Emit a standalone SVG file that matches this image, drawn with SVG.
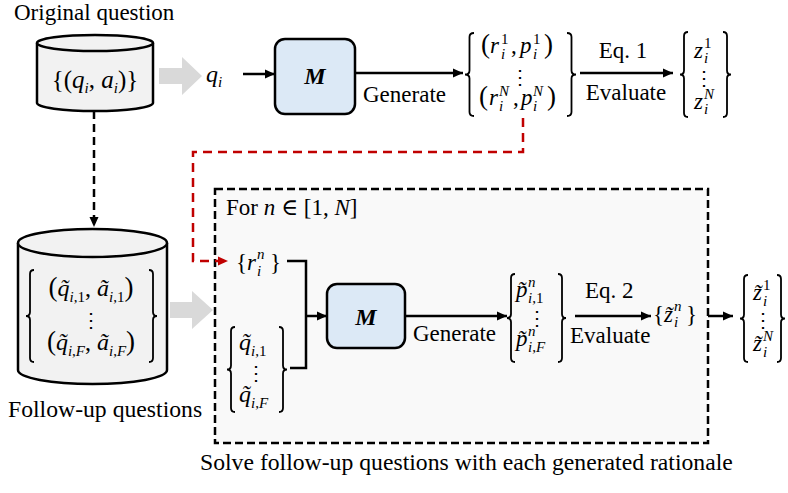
<svg xmlns="http://www.w3.org/2000/svg" width="788" height="493" viewBox="0 0 788 493">
<style>
text{font-family:'Liberation Serif','Tinos','DejaVu Serif',serif}
.t{font-size:23px;fill:#000}
.m{font-size:23px;font-style:italic;fill:#000}
.s{font-size:15px}
.i{font-style:italic}
.u{font-style:normal}
.p{font-size:27px;font-style:normal}
.dots{font-family:'DejaVu Serif',serif;font-size:20px;text-anchor:middle;fill:#000}
.brace{fill:none;stroke:#000;stroke-width:1.8}
.cyl{fill:#f2f2f2;stroke:#000;stroke-width:2.5}
.mbox{fill:#dce9f6;stroke:#000;stroke-width:2.5}
.mtxt{font-size:24px;font-weight:bold;font-style:italic;text-anchor:middle}
.ln{fill:none;stroke:#000;stroke-width:2.5}
.gray{fill:#d9d9d9}
</style>
<defs>
<marker id="ah" markerUnits="userSpaceOnUse" markerWidth="11" markerHeight="10" refX="10" refY="5" orient="auto"><path d="M0,0.5 L10,5 L0,9.5 z" fill="#000"/></marker>
<marker id="ahr" markerUnits="userSpaceOnUse" markerWidth="11" markerHeight="10" refX="10" refY="5" orient="auto"><path d="M0,0.5 L10,5 L0,9.5 z" fill="#c00000"/></marker>
</defs>

<rect x="0" y="0" width="788" height="493" fill="#fff"/>

<!-- Loop box -->
<g id="loop">
<rect x="215" y="189" width="493" height="254" fill="#f9f9f9" stroke="#000" stroke-width="2.5" stroke-dasharray="8,4"/>
<text class="t" x="226" y="215">For <tspan class="i">n</tspan> ∈ [1, <tspan class="i">N</tspan>]</text>
</g>

<!-- Original question -->
<g id="orig">
<text class="t" x="14" y="20">Original question</text>
<path class="cyl" d="M37,43 L37,103 A58,8 0 0 0 153,103 L153,43"/>
<ellipse class="cyl" cx="95" cy="43" rx="58" ry="8"/>
<text class="t" x="95" y="88" text-anchor="middle" style="font-size:25px">{(<tspan class="i">q</tspan><tspan class="s i" dy="5">i</tspan><tspan dy="-5">, </tspan><tspan class="i">a</tspan><tspan class="s i" dy="5">i</tspan><tspan dy="-5">)}</tspan></text>
</g>

<!-- Follow-up questions -->
<g id="followup">
<path class="cyl" d="M18,243 L18,370 A74.5,14 0 0 0 167,370 L167,243"/>
<ellipse class="cyl" cx="92.5" cy="243" rx="74.5" ry="14"/>
<path class="brace" d="M34,270 Q30,270 30,274 L30,312 Q30,316 26,316 Q30,316 30,320 L30,358 Q30,362 34,362"/>
<path class="brace" d="M149,270 Q153,270 153,274 L153,312 Q153,316 157,316 Q153,316 153,320 L153,358 Q153,362 149,362"/>
<text class="t" x="91" y="296" text-anchor="middle" style="font-size:24px"><tspan class="p">(</tspan><tspan class="i">q̃</tspan><tspan class="s" dy="6"><tspan class="i">i</tspan>,1</tspan><tspan dy="-6">,  </tspan><tspan class="i">ã</tspan><tspan class="s" dy="6"><tspan class="i">i</tspan>,1</tspan><tspan class="p" dy="-6">)</tspan></text>
<text class="dots" x="91" y="327">⋮</text>
<text class="t" x="91" y="350" text-anchor="middle" style="font-size:24px"><tspan class="p">(</tspan><tspan class="i">q̃</tspan><tspan class="s" dy="6"><tspan class="i">i</tspan>,<tspan class="i">F</tspan></tspan><tspan dy="-6">,  </tspan><tspan class="i">ã</tspan><tspan class="s" dy="6"><tspan class="i">i</tspan>,<tspan class="i">F</tspan></tspan><tspan class="p" dy="-6">)</tspan></text>
<text class="t" x="8" y="417" style="font-size:23.7px">Follow-up questions</text>
</g>

<!-- q_i -->
<g id="qi">
<text class="m" x="206" y="82" style="font-size:24px">q<tspan class="s" dy="5">i</tspan></text>
</g>

<!-- M top -->
<g id="model1">
<rect class="mbox" x="275" y="39" width="80" height="75" rx="10"/>
<text class="mtxt" x="315" y="84">M</text>
</g>

<!-- r,p set -->
<g id="rp">
<path class="brace" d="M474,33 Q469.5,33 469.5,37 L469.5,70.5 Q469.5,74.5 465,74.5 Q469.5,74.5 469.5,78.5 L469.5,112 Q469.5,116 474,116"/>
<path class="brace" d="M567,33 Q571.5,33 571.5,37 L571.5,70.5 Q571.5,74.5 576,74.5 Q571.5,74.5 571.5,78.5 L571.5,112 Q571.5,116 567,116"/>
<text class="t"><tspan class="p" x="481" y="53">(</tspan><tspan class="i" x="490" y="53">r</tspan><tspan class="s" x="501" y="44">1</tspan><tspan class="s i" x="501" y="59">i</tspan><tspan x="511" y="53">,</tspan><tspan class="i" x="520" y="53">p</tspan><tspan class="s" x="533" y="44">1</tspan><tspan class="s i" x="533" y="59">i</tspan><tspan class="p" x="544" y="53">)</tspan></text>
<text class="dots" x="520" y="84">⋮</text>
<text class="t"><tspan class="p" x="479" y="105">(</tspan><tspan class="i" x="489" y="105">r</tspan><tspan class="s i" x="499" y="96">N</tspan><tspan class="s i" x="499" y="111">i</tspan><tspan x="513" y="105">,</tspan><tspan class="i" x="521" y="105">p</tspan><tspan class="s i" x="533" y="96">N</tspan><tspan class="s i" x="533" y="111">i</tspan><tspan class="p" x="547" y="105">)</tspan></text>
</g>

<!-- z set -->
<g id="z">
<path class="brace" d="M688,32 Q684,32 684,36 L684,70.5 Q684,74.5 680,74.5 Q684,74.5 684,78.5 L684,113 Q684,117 688,117"/>
<path class="brace" d="M723,32 Q727,32 727,36 L727,70.5 Q727,74.5 731,74.5 Q727,74.5 727,78.5 L727,113 Q727,117 723,117"/>
<text class="t"><tspan class="i" x="694" y="58">z</tspan><tspan class="s" x="704" y="48">1</tspan><tspan class="s i" x="704" y="63">i</tspan></text>
<text class="dots" x="704" y="85">⋮</text>
<text class="t"><tspan class="i" x="694" y="109">z</tspan><tspan class="s i" x="704" y="99">N</tspan><tspan class="s i" x="704" y="114">i</tspan></text>
</g>

<!-- r_i^n -->
<g id="rin">
<text class="t"><tspan x="236" y="270">{</tspan><tspan class="i" x="247" y="270">r</tspan><tspan class="s i" x="257" y="259">n</tspan><tspan class="s i" x="257" y="276">i</tspan><tspan x="270" y="270">}</tspan></text>
</g>

<!-- q tilde set -->
<g id="qt">
<path class="brace" d="M235,327 Q231,327 231,331 L231,365.5 Q231,369.5 227,369.5 Q231,369.5 231,373.5 L231,408 Q231,412 235,412"/>
<path class="brace" d="M279,327 Q283,327 283,331 L283,365.5 Q283,369.5 287,369.5 Q283,369.5 283,373.5 L283,408 Q283,412 279,412"/>
<text class="m" x="239" y="350" style="font-size:24px">q̃<tspan class="s" dy="6">i<tspan class="u">,1</tspan></tspan></text>
<text class="dots" x="256" y="380">⋮</text>
<text class="m" x="239" y="402" style="font-size:24px">q̃<tspan class="s" dy="6">i<tspan class="u">,</tspan>F</tspan></text>
</g>

<!-- M bottom -->
<g id="model2">
<rect class="mbox" x="327" y="284" width="78" height="64" rx="10"/>
<text class="mtxt" x="366" y="325">M</text>
</g>

<!-- p tilde set -->
<g id="pt">
<path class="brace" d="M515,274 Q511,274 511,278 L511,314 Q511,318 507,318 Q511,318 511,322 L511,358 Q511,362 515,362"/>
<path class="brace" d="M558,274 Q562,274 562,278 L562,314 Q562,318 566,318 Q562,318 562,322 L562,358 Q562,362 558,362"/>
<text class="t"><tspan class="i" x="516" y="297">p̃</tspan><tspan class="s i" x="528" y="287">n</tspan><tspan class="s" x="528" y="303"><tspan class="i">i</tspan>,1</tspan></text>
<text class="dots" x="537" y="325">⋮</text>
<text class="t"><tspan class="i" x="516" y="346">p̃</tspan><tspan class="s i" x="528" y="336">n</tspan><tspan class="s" x="528" y="352"><tspan class="i">i</tspan>,<tspan class="i">F</tspan></tspan></text>
</g>

<!-- z tilde n -->
<g id="ztn">
<text class="t"><tspan x="653" y="322">{</tspan><tspan class="i" x="664" y="322">z̃</tspan><tspan class="s i" x="674" y="311">n</tspan><tspan class="s i" x="674" y="327">i</tspan><tspan x="686" y="322">}</tspan></text>
</g>

<!-- z tilde set -->
<g id="zt">
<path class="brace" d="M748,275 Q744,275 744,279 L744,314.5 Q744,318.5 740,318.5 Q744,318.5 744,322.5 L744,358 Q744,362 748,362"/>
<path class="brace" d="M777,275 Q781,275 781,279 L781,314.5 Q781,318.5 785,318.5 Q781,318.5 781,322.5 L781,358 Q781,362 777,362"/>
<text class="t"><tspan class="i" x="753" y="300">z̃</tspan><tspan class="s" x="763" y="290">1</tspan><tspan class="s i" x="763" y="306">i</tspan></text>
<text class="dots" x="763" y="327">⋮</text>
<text class="t"><tspan class="i" x="753" y="351">z̃</tspan><tspan class="s i" x="763" y="341">N</tspan><tspan class="s i" x="763" y="357">i</tspan></text>
</g>

<!-- Connectors -->
<g id="connectors">
<polygon class="gray" points="159,68 182,68 182,57 202,76 182,95 182,84 159,84"/>
<polygon class="gray" points="170,302 192,302 192,291 213,310 192,329 192,318 170,318"/>
<path class="ln" d="M94,111 L94,227" stroke-dasharray="8,5" marker-end="url(#ah)"/>
<path class="ln" d="M243,74 L275,74" marker-end="url(#ah)"/>
<path class="ln" d="M355,73 L463,73" marker-end="url(#ah)"/>
<path class="ln" d="M580,73 L673,73" marker-end="url(#ah)"/>
<path d="M523,118 L523,152 L193,152 L193,261 L228,261" fill="none" stroke="#c00000" stroke-width="2.5" stroke-dasharray="9,6" marker-end="url(#ahr)"/>
<path class="ln" d="M287,261 L306,261 L306,368 L290,368"/>
<path class="ln" d="M306,316 L327,316" marker-end="url(#ah)"/>
<path class="ln" d="M405,316 L507,316" marker-end="url(#ah)"/>
<path class="ln" d="M575,316 L651,316" marker-end="url(#ah)"/>
<path class="ln" d="M708,316 L733,316" marker-end="url(#ah)"/>
</g>

<!-- Labels -->
<g id="labels">
<text class="t" x="363" y="102">Generate</text>
<text class="t" x="623" y="58" text-anchor="middle">Eq. 1</text>
<text class="t" x="626" y="100" text-anchor="middle">Evaluate</text>
<text class="t" x="413" y="341">Generate</text>
<text class="t" x="585" y="298">Eq. 2</text>
<text class="t" x="570" y="343">Evaluate</text>
<text class="t" x="200" y="470" style="font-size:23.7px">Solve follow-up questions with each generated rationale</text>
</g>
</svg>
